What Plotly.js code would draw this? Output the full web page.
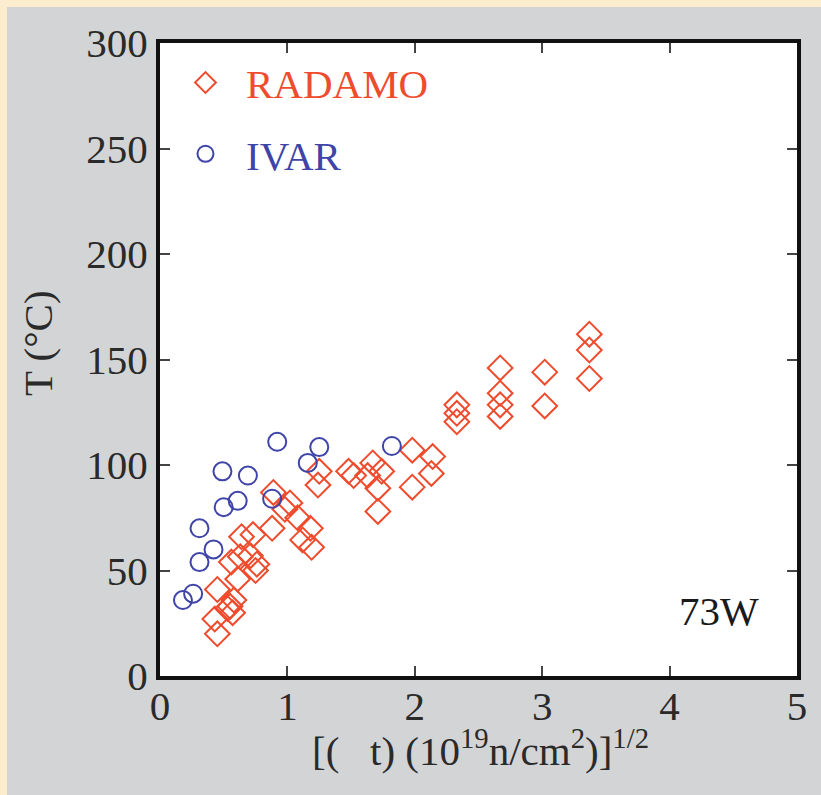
<!DOCTYPE html>
<html>
<head>
<meta charset="utf-8">
<script src="https://cdn.plot.ly/plotly-3.0.1.min.js"></script>
<style>
  html, body { margin: 0; padding: 0; background: #fcedcf; width: 821px; height: 795px; overflow: hidden; }
  #chart { position: absolute; left: 7px; top: 7px; width: 814px; height: 788px; }
</style>
</head>
<body>
<div id="chart"></div>
<script>
// RADAMO data: x = sqrt(fluence) [(phi t)(1e19 n/cm2)]^1/2, y = T (°C)
const radamoX = [0.45, 0.43, 0.45, 0.53, 0.55, 0.57, 0.58, 0.63, 0.56, 0.61, 0.71, 0.76, 0.75, 0.64, 0.73,
                 0.88, 0.89, 1.02, 0.98, 1.08, 1.18, 1.12, 1.19, 1.25, 1.24, 1.48, 1.52, 1.67, 1.74, 1.71,
                 1.71, 1.63, 1.98, 1.98, 2.14, 2.13, 2.33, 2.33, 2.33, 2.67, 2.67, 2.67, 2.67, 3.02, 3.02,
                 3.37, 3.37, 3.37];
const radamoY = [20, 27, 41, 32, 33, 30, 36, 56.5, 54, 46, 57, 53, 50, 66, 67,
                 70, 87, 82, 79, 75, 70, 64.5, 61, 97, 90.5, 97, 95, 101, 97, 89,
                 78, 95, 107, 89.5, 104, 96, 128.5, 124.5, 120.5, 146, 134, 128.5, 123, 144, 128,
                 162, 154.5, 141];
// IVAR data
const ivarX = [0.18, 0.26, 0.31, 0.31, 0.42, 0.49, 0.50, 0.61, 0.69, 0.88, 0.92, 1.16, 1.25, 1.82];
const ivarY = [36, 39, 70, 54, 60, 97, 80, 83, 95, 84, 111, 101, 108.5, 109];

const seriesNames = ['RADAMO', 'IVAR'];
const xTicks = [0, 1, 2, 3, 4, 5];
const yTicks = [0, 50, 100, 150, 200, 250, 300];
const panelLabel = '73W';
const xTitle = '[(\u00a0\u00a0\u00a0t) (10<sup>19</sup>n/cm<sup>2</sup>)]<sup>1/2</sup>';
const yTitle = 'T (\u00b0C)';

const red = '#ef4b2d';
const blue = '#3e44a8';
const serif = 'Liberation Serif, Times New Roman, serif';
const txtCol = '#2a2a2a';

const traces = [
  {
    x: radamoX, y: radamoY, name: '\u00a0\u00a0' + seriesNames[0], type: 'scatter', mode: 'markers',
    marker: { symbol: 'diamond-open', size: 19, color: red, line: { width: 2, color: red } },
    legendgroup: 'a'
  },
  {
    x: ivarX, y: ivarY, name: '\u00a0\u00a0' + seriesNames[1], type: 'scatter', mode: 'markers',
    marker: { symbol: 'circle-open', size: 18, color: blue, line: { width: 2, color: blue } },
    legendgroup: 'b'
  }
];

const axisCommon = {
  showline: true, linewidth: 4, linecolor: '#111', mirror: 'ticks',
  ticks: 'inside', ticklen: 10, tickwidth: 2, tickcolor: '#444',
  showgrid: false, zeroline: false,
  tickfont: { family: serif, size: 41, color: txtCol }
};

const layout = {
  width: 814, height: 788,
  paper_bgcolor: '#d3d4d6', plot_bgcolor: '#ffffff',
  margin: { l: 153, r: 24, t: 36, b: 119 },
  showlegend: true,
  legend: {
    x: 0.04, y: 0.99, xanchor: 'left', yanchor: 'top',
    bgcolor: 'rgba(0,0,0,0)', borderwidth: 0,
    font: { family: serif, size: 41 },
    traceorder: 'grouped', tracegroupgap: 15
  },
  xaxis: Object.assign({}, axisCommon, {
    range: [0, 5], tickvals: xTicks, ticktext: xTicks.map(String),
    ticklabelstandoff: -9
  }),
  yaxis: Object.assign({}, axisCommon, {
    range: [0, 300], tickvals: yTicks, ticktext: yTicks.map(String)
  }),
  annotations: [
    { x: 4.39, y: 31, xref: 'x', yref: 'y', text: panelLabel, showarrow: false,
      font: { family: serif, size: 41, color: '#1a1a1a' } },
    { x: 0.5, y: 0, xref: 'paper', yref: 'paper', xanchor: 'center', yanchor: 'middle',
      xshift: 2, yshift: -72, text: xTitle, showarrow: false,
      font: { family: serif, size: 41, color: txtCol } },
    { x: 0, y: 0.526, xref: 'paper', yref: 'paper', xanchor: 'center', yanchor: 'middle',
      xshift: -122, textangle: -90, text: yTitle, showarrow: false,
      font: { family: serif, size: 41, color: txtCol } }
  ]
};

Plotly.newPlot('chart', traces, layout, { displayModeBar: false, staticPlot: true }).then(() => {
  // colour legend texts to match series
  const texts = document.querySelectorAll('.legendtext');
  const cols = [red, blue];
  texts.forEach((t, i) => { t.style.fill = cols[i]; });
});
</script>
</body>
</html>
